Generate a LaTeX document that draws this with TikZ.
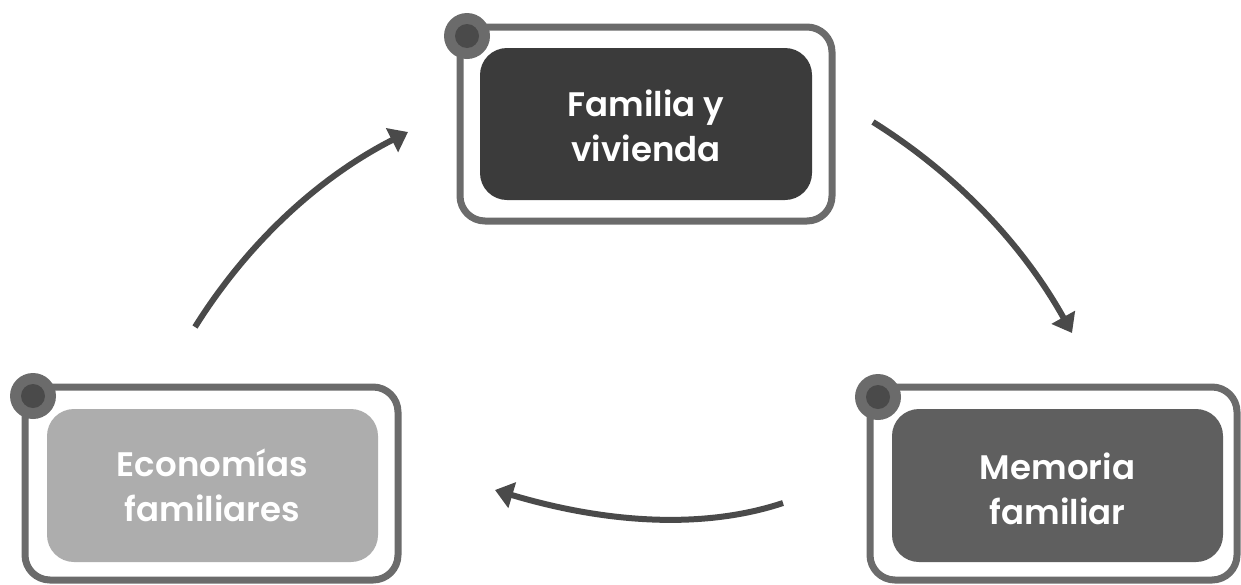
\documentclass[tikz,border=0pt]{standalone}
\usepackage{fontspec}
\setmainfont{Poppins}[BoldFont={Poppins SemiBold}]
\usetikzlibrary{arrows.meta}
\definecolor{framegray}{HTML}{6B6B6B}
\definecolor{dotgray}{HTML}{4A4A4A}
\definecolor{arrowgray}{HTML}{4A4A4A}
\definecolor{darkfill}{HTML}{3B3B3B}
\definecolor{midfill}{HTML}{5F5F5F}
\definecolor{lightfill}{HTML}{ADADAD}
\begin{document}
\begin{tikzpicture}[x=1pt,y=-1pt,
  outerbox/.style={draw=framegray, line width=7pt, rounded corners=25pt, fill=white, inner sep=0pt},
  innerbox/.style={rounded corners=27pt, inner sep=0pt, minimum width=331pt, minimum height=153pt},
  boxtext/.style={text=white, align=center, inner sep=0pt, font=\bfseries\fontsize{34}{45}\selectfont},
  dotouter/.style={circle, fill=framegray, minimum size=46pt, inner sep=0pt},
  dotinner/.style={circle, fill=dotgray, minimum size=24pt, inner sep=0pt},
  flow/.style={draw=arrowgray, line width=6pt, -{Triangle[length=18pt,width=26pt]}}]
\useasboundingbox (0,0) rectangle (1241,584);
% top
\node[outerbox, minimum width=372pt, minimum height=194pt] (topframe) at (646,124) {};
\node[innerbox, fill=darkfill, minimum width=332pt, minimum height=152pt] (top) at (646,124) {};
\node[boxtext] (toptext) at (646,126) {Familia y\\vivienda};
\node[dotouter] (topdot) at (467,36) {};
\node[dotinner] (topdotc) at (topdot) {};
% left
\node[outerbox, minimum width=373pt, minimum height=193pt] (leftframe) at (211.5,483.5) {};
\node[innerbox, fill=lightfill] (left) at (212.5,485.5) {};
\node[boxtext] (lefttext) at (212.5,485.5) {Economías\\familiares};
\node[dotouter] (leftdot) at (33,396) {};
\node[dotinner] (leftdotc) at (leftdot) {};
% right
\node[outerbox, minimum width=367pt, minimum height=193pt] (rightframe) at (1053.5,483.5) {};
\node[innerbox, fill=midfill] (right) at (1057.5,485.5) {};
\node[boxtext] (righttext) at (1057.5,488.5) {Memoria\\familiar};
\node[dotouter] (rightdot) at (878,397) {};
\node[dotinner] (rightdotc) at (rightdot) {};
% arrows
\coordinate (a1s) at (195,327);
\coordinate (a1e) at (408,132);
\coordinate (a2s) at (873,122);
\coordinate (a2e) at (1072,333);
\coordinate (a3s) at (783,503);
\coordinate (a3e) at (495,490);
\draw[flow] (a1s) .. controls (248,242.3) and (319,177.3) .. (a1e);
\draw[flow] (a2s) .. controls (957.1,174.7) and (1022.8,244.7) .. (a2e);
\draw[flow] (a3s) .. controls (705.7,528.7) and (609.7,524.3) .. (a3e);
\end{tikzpicture}
\end{document}
